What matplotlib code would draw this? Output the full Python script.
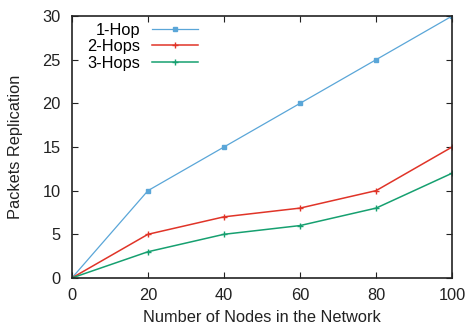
import matplotlib
matplotlib.use("Agg")
import matplotlib.pyplot as plt

plt.rcParams['font.family'] = ['Liberation Sans', 'DejaVu Sans']

nodes = [0, 20, 40, 60, 80, 100]
hop1 = [0, 10, 15, 20, 25, 30]
hop2 = [0, 5, 7, 8, 10, 15]
hop3 = [0, 3, 5, 6, 8, 12]

fs = 11.8
fig = plt.figure(figsize=(4.7, 3.27), dpi=100)
ax = fig.add_axes([0.153, 0.150, 0.809, 0.801])

ax.plot(nodes, hop1, color='#5aa6d8', lw=0.9, marker='s', ms=3.5, label='1-Hop')
ax.plot(nodes, hop2, color='#e03428', lw=1.1, marker='+', ms=4, mew=1.0, label='2-Hops')
ax.plot(nodes, hop3, color='#16a070', lw=1.1, marker='+', ms=4, mew=1.0, label='3-Hops')

ax.set_xlim(0, 100)
ax.set_ylim(0, 30)
ax.set_xticks([0, 20, 40, 60, 80, 100])
ax.set_yticks([0, 5, 10, 15, 20, 25, 30])
ax.tick_params(direction='in', top=True, right=True, length=4, width=0.8, labelsize=fs, colors='#222222')
ax.tick_params(axis='x', pad=7)
ax.tick_params(axis='y', pad=8)
for s in ax.spines.values():
    s.set_linewidth(1.2)
    s.set_color('#222222')
ax.set_xlabel('Number of Nodes in the Network', fontsize=fs, color='#222222', labelpad=5)
ax.set_ylabel('Packets Replication', fontsize=fs, color='#222222', labelpad=14)

ax.legend(loc='upper left', frameon=False, markerfirst=False, alignment='right',
          fontsize=fs, handlelength=2.8, handletextpad=0.7, labelspacing=0.1,
          borderaxespad=0.0, bbox_to_anchor=(0.024, 1.0))

fig.savefig('out.png', dpi=100)
